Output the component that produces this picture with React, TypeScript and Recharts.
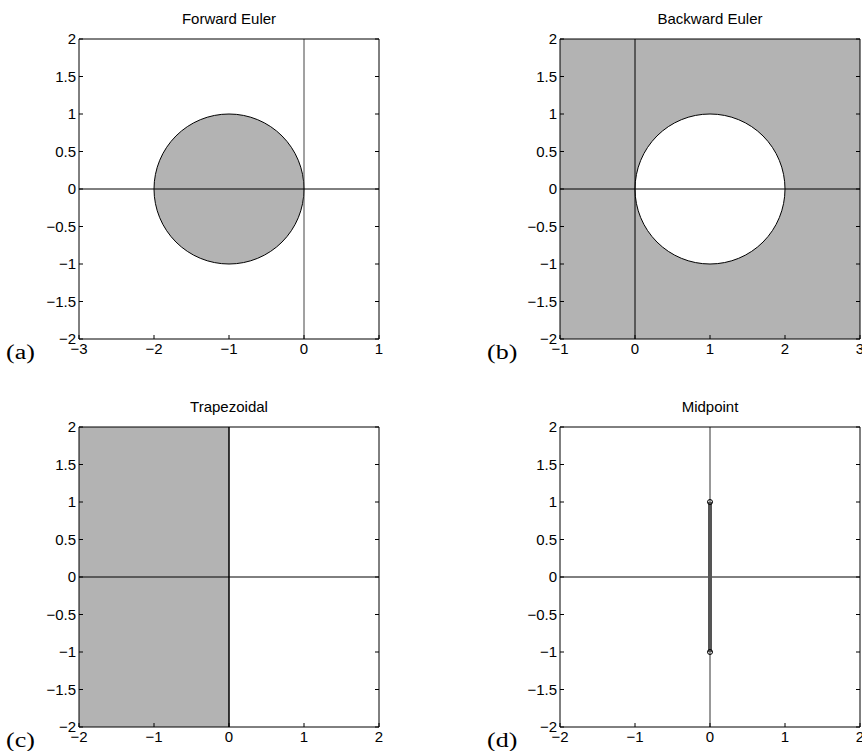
import React from 'react';
import { ComposedChart, XAxis, YAxis, ReferenceArea, ReferenceLine, Scatter } from 'recharts';

// axis ticks
const yTicks = [-2, -1.5, -1, -0.5, 0, 0.5, 1, 1.5, 2];
const forwardTicks = [-3, -2, -1, 0, 1];
const backwardTicks = [-1, 0, 1, 2, 3];
const trapTicks = [-2, -1, 0, 1, 2];
const midTicks = [-2, -1, 0, 1, 2];

// stability regions
const forwardCircle = { center: -1, radius: 1 };
const backwardCircle = { center: 1, radius: 1 };
const trapHalfPlane = { from: -2, to: 0 };
const midpointSegment = [
    { re: 0, im: -1 },
    { re: 0, im: 1 },
];

const GRAY = '#b3b3b3';
const FONT = '"Liberation Sans", Arial, Helvetica, sans-serif';

const fmt = (v: number) => String(v).replace('-', '\u2212');

const BottomTick = (props: any) => {
    const { x, y, payload } = props;
    return (
        <g>
            <line x1={x} x2={x} y1={y} y2={y - 4} stroke="#000" />
            <text x={x} y={y + 10} dy="0.35em" textAnchor="middle" fontSize={15} fontFamily={FONT} fill="#000">
                {fmt(payload.value)}
            </text>
        </g>
    );
};

const TopTick = (props: any) => {
    const { x, y } = props;
    return <line x1={x} x2={x} y1={y} y2={y + 4} stroke="#000" />;
};

const LeftTick = (props: any) => {
    const { x, y, payload } = props;
    return (
        <g>
            <line x1={x} x2={x + 4} y1={y} y2={y} stroke="#000" />
            <text x={x - 3} y={y} dy="0.35em" textAnchor="end" fontSize={15} fontFamily={FONT} fill="#000">
                {fmt(payload.value)}
            </text>
        </g>
    );
};

const RightTick = (props: any) => {
    const { x, y } = props;
    return <line x1={x} x2={x - 4} y1={y} y2={y} stroke="#000" />;
};

const Ellipse = (fill: string) => (props: any) => {
    const { x, y, width, height } = props;
    return (
        <ellipse cx={x + width / 2} cy={y + height / 2} rx={width / 2} ry={height / 2} fill={fill} stroke="#000" strokeWidth={1} />
    );
};

const Dot = (props: any) => <circle cx={props.cx} cy={props.cy} r={2.5} fill="none" stroke="#000" strokeWidth={1} />;

function Panel({ left, top, title, tag, xTicks, children }: any) {
    const W = 300, H = 300;
    const m = { top: 45, left: 80, right: 20, bottom: 24 };
    const xDomain = [xTicks[0], xTicks[xTicks.length - 1]];
    return (
        <div style={{ position: 'absolute', left: left - m.left, top: top - m.top }}>
            <div style={{ position: 'absolute', left: m.left, width: W, top: m.top - 29, textAlign: 'center', fontFamily: FONT, fontSize: 15, lineHeight: '18px' }}>
                {title}
            </div>
            <div style={{ position: 'absolute', left: m.left - 73, top: m.top + H + 3, fontFamily: '"Liberation Serif", "Times New Roman", serif', fontSize: 20, lineHeight: '20px', transform: 'scaleX(1.3)', transformOrigin: 'left top' }}>
                {tag}
            </div>
            <ComposedChart width={W + m.left + m.right} height={H + m.top + m.bottom}
                margin={{ top: m.top - 1, left: m.left - 1, right: m.right - 1, bottom: m.bottom - 1 }}>
                <XAxis type="number" dataKey="re" domain={xDomain} ticks={xTicks} allowDataOverflow height={1}
                    tickSize={0} tickMargin={0} tickLine={false} axisLine={{ stroke: '#000' }} tick={<BottomTick />} interval={0} />
                <XAxis xAxisId="top" orientation="top" type="number" domain={xDomain} ticks={xTicks} allowDataOverflow height={1}
                    tickSize={0} tickMargin={0} tickLine={false} axisLine={{ stroke: '#000' }} tick={<TopTick />} interval={0} />
                <YAxis type="number" dataKey="im" domain={[-2, 2]} ticks={yTicks} allowDataOverflow width={1}
                    tickSize={0} tickMargin={0} tickLine={false} axisLine={{ stroke: '#000' }} tick={<LeftTick />} interval={0} />
                <YAxis yAxisId="right" orientation="right" type="number" domain={[-2, 2]} ticks={yTicks} allowDataOverflow width={1}
                    tickSize={0} tickMargin={0} tickLine={false} axisLine={{ stroke: '#000' }} tick={<RightTick />} interval={0} />
                {children}
            </ComposedChart>
        </div>
    );
}

export default function App() {
    return (
        <div style={{ position: 'absolute', left: 0, top: 0, width: 862, height: 751, overflow: 'hidden', background: '#fff' }}>
            <Panel left={79} top={39} title="Forward Euler" tag="(a)" xTicks={forwardTicks}>
                <ReferenceArea x1={forwardCircle.center - forwardCircle.radius} x2={forwardCircle.center + forwardCircle.radius}
                    y1={-forwardCircle.radius} y2={forwardCircle.radius} shape={Ellipse(GRAY)} />
                <ReferenceLine x={0} stroke="#444" />
                <ReferenceLine y={0} stroke="#000" />
            </Panel>
            <Panel left={560} top={39} title="Backward Euler" tag="(b)" xTicks={backwardTicks}>
                <ReferenceArea x1={backwardTicks[0]} x2={backwardTicks[backwardTicks.length - 1]} y1={-2} y2={2} fill={GRAY} fillOpacity={1} stroke="none" />
                <ReferenceLine x={0} stroke="#000" />
                <ReferenceLine y={0} stroke="#000" />
                <ReferenceArea x1={backwardCircle.center - backwardCircle.radius} x2={backwardCircle.center + backwardCircle.radius}
                    y1={-backwardCircle.radius} y2={backwardCircle.radius} shape={Ellipse('#fff')} />
            </Panel>
            <Panel left={79} top={427} title="Trapezoidal" tag="(c)" xTicks={trapTicks}>
                <ReferenceArea x1={trapHalfPlane.from} x2={trapHalfPlane.to} y1={-2} y2={2} fill={GRAY} fillOpacity={1} stroke="none" />
                <ReferenceLine y={0} stroke="#000" />
                <ReferenceLine x={0} stroke="#000" strokeWidth={1.5} />
            </Panel>
            <Panel left={560} top={427} title="Midpoint" tag="(d)" xTicks={midTicks}>
                <ReferenceLine x={0} stroke="#333" />
                <ReferenceLine y={0} stroke="#000" />
                <Scatter data={midpointSegment} line={{ stroke: '#555', strokeWidth: 4 }} shape={<Dot />} isAnimationActive={false} />
            </Panel>
        </div>
    );
}
